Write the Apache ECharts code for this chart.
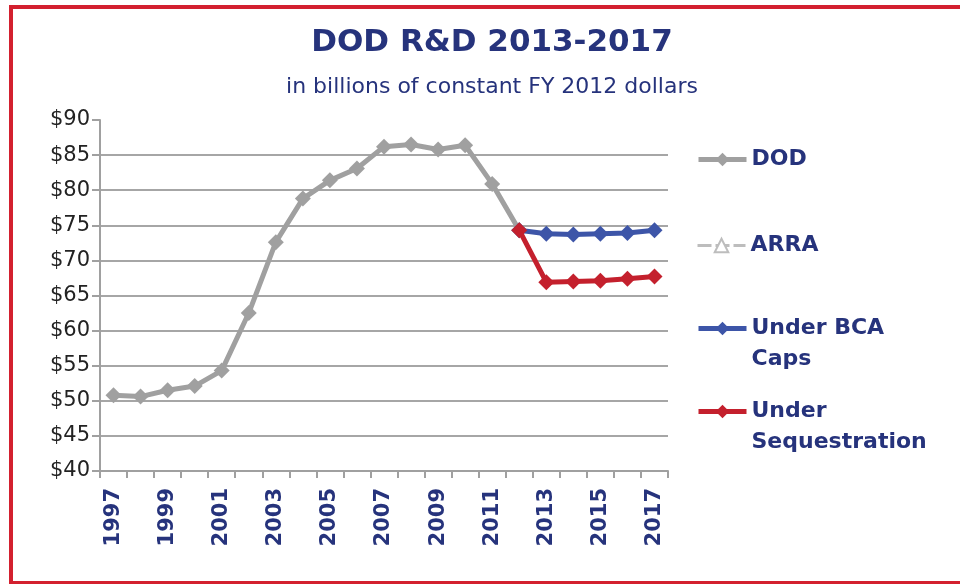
<!DOCTYPE html>
<html>
<head>
<meta charset="utf-8">
<script src="https://cdn.jsdelivr.net/npm/echarts@6/dist/echarts.min.js"></script>
<style>
html,body{margin:0;padding:0;background:#fff;}
#frame{position:absolute;left:9px;top:5px;width:960px;height:572px;border-left:4px solid #d3202f;border-top:4px solid #d3202f;border-bottom:4px solid #d3202f;box-sizing:content-box;}
#chart{position:absolute;left:0;top:0;width:960px;height:584px;}
</style>
</head>
<body>
<div id="frame"></div>
<div id="chart"></div>
<script>
var years = ['1997','1998','1999','2000','2001','2002','2003','2004','2005','2006','2007','2008','2009','2010','2011','2012','2013','2014','2015','2016','2017'];
var dodValues = [50.8, 50.6, 51.5, 52.1, 54.3, 62.5, 72.6, 78.8, 81.4, 83.1, 86.2, 86.5, 85.8, 86.4, 80.9, 74.3, null, null, null, null, null];
var arraValues = [null, null, null, null, null, null, null, null, null, null, null, null, null, null, null, null, null, null, null, null, null];
var bcaValues = [null, null, null, null, null, null, null, null, null, null, null, null, null, null, null, 74.3, 73.8, 73.7, 73.8, 73.9, 74.3];
var seqValues = [null, null, null, null, null, null, null, null, null, null, null, null, null, null, null, 74.3, 66.9, 67.0, 67.1, 67.4, 67.7];
var yTicks = {min: 40, max: 90, step: 5};

var navy = '#26337c';
var chart = echarts.init(document.getElementById('chart'));
function leg(name, top, multi, lw) {
  return {data: [name], left: 691, top: top, orient: 'vertical', itemWidth: 48, itemHeight: 17, itemGap: 0,
          lineStyle: {width: lw},
          formatter: multi ? function (n) { return '\n' + n; } : null,
          textStyle: {color: navy, fontFamily: 'DejaVu Sans', fontWeight: 'bold', fontSize: 22, lineHeight: 31},
          selectedMode: false};
}
chart.setOption({
  animation: false,
  backgroundColor: 'transparent',
  title: [
    {text: 'DOD R&D 2013-2017', left: 487, top: 22, textAlign: 'center',
     textStyle: {color: navy, fontFamily: 'DejaVu Sans', fontWeight: 'bold', fontSize: 31}},
    {text: 'in billions of constant FY 2012 dollars', left: 487, top: 71, textAlign: 'center',
     textStyle: {color: navy, fontFamily: 'DejaVu Sans', fontWeight: 'normal', fontSize: 22}}
  ],
  legend: [
    leg('DOD', 139, false, 5),
    leg('ARRA', 225, false, 3),
    leg('Under BCA\nCaps', 277, true, 5),
    leg('Under\nSequestration', 360, true, 5)
  ],
  grid: {left: 100, right: 292, top: 120, bottom: 113, containLabel: false},
  xAxis: {
    type: 'category', data: years, boundaryGap: true,
    axisLine: {lineStyle: {color: '#a0a0a0', width: 2}},
    axisTick: {show: true, alignWithLabel: false, interval: 0, length: 7, lineStyle: {color: '#a0a0a0', width: 2}},
    axisLabel: {interval: 1, rotate: 90, color: navy, fontFamily: 'DejaVu Sans', fontWeight: 'bold', fontSize: 21, margin: 17},
    splitLine: {show: false}
  },
  yAxis: {
    type: 'value', min: yTicks.min, max: yTicks.max, interval: yTicks.step,
    axisLine: {show: true, lineStyle: {color: '#a0a0a0', width: 2}},
    axisTick: {show: true, length: 8, lineStyle: {color: '#a0a0a0', width: 2}},
    axisLabel: {formatter: function (v) { return '$' + v; }, color: '#222222', fontFamily: 'DejaVu Sans', fontSize: 21, margin: 10},
    splitLine: {show: true, showMaxLine: false, lineStyle: {color: '#a6a6a6', width: 2}}
  },
  series: [
    {name: 'DOD', type: 'line', data: dodValues, symbol: 'diamond', symbolSize: 16, z: 2,
     lineStyle: {color: '#a0a0a0', width: 5}, itemStyle: {color: '#a0a0a0'}},
    {name: 'ARRA', type: 'line', data: arraValues, symbol: 'emptyTriangle', symbolSize: 10, z: 2,
     lineStyle: {color: '#bdbdbd', width: 3, type: [14, 4]}, itemStyle: {color: '#bdbdbd', borderColor: '#bdbdbd', borderWidth: 2}},
    {name: 'Under BCA\nCaps', type: 'line', data: bcaValues, symbol: 'diamond', symbolSize: 16, z: 3,
     lineStyle: {color: '#3d55a8', width: 5}, itemStyle: {color: '#3d55a8'}},
    {name: 'Under\nSequestration', type: 'line', data: seqValues, symbol: 'diamond', symbolSize: 16, z: 4,
     lineStyle: {color: '#c4202d', width: 5}, itemStyle: {color: '#c4202d'}}
  ]
});
</script>
</body>
</html>
